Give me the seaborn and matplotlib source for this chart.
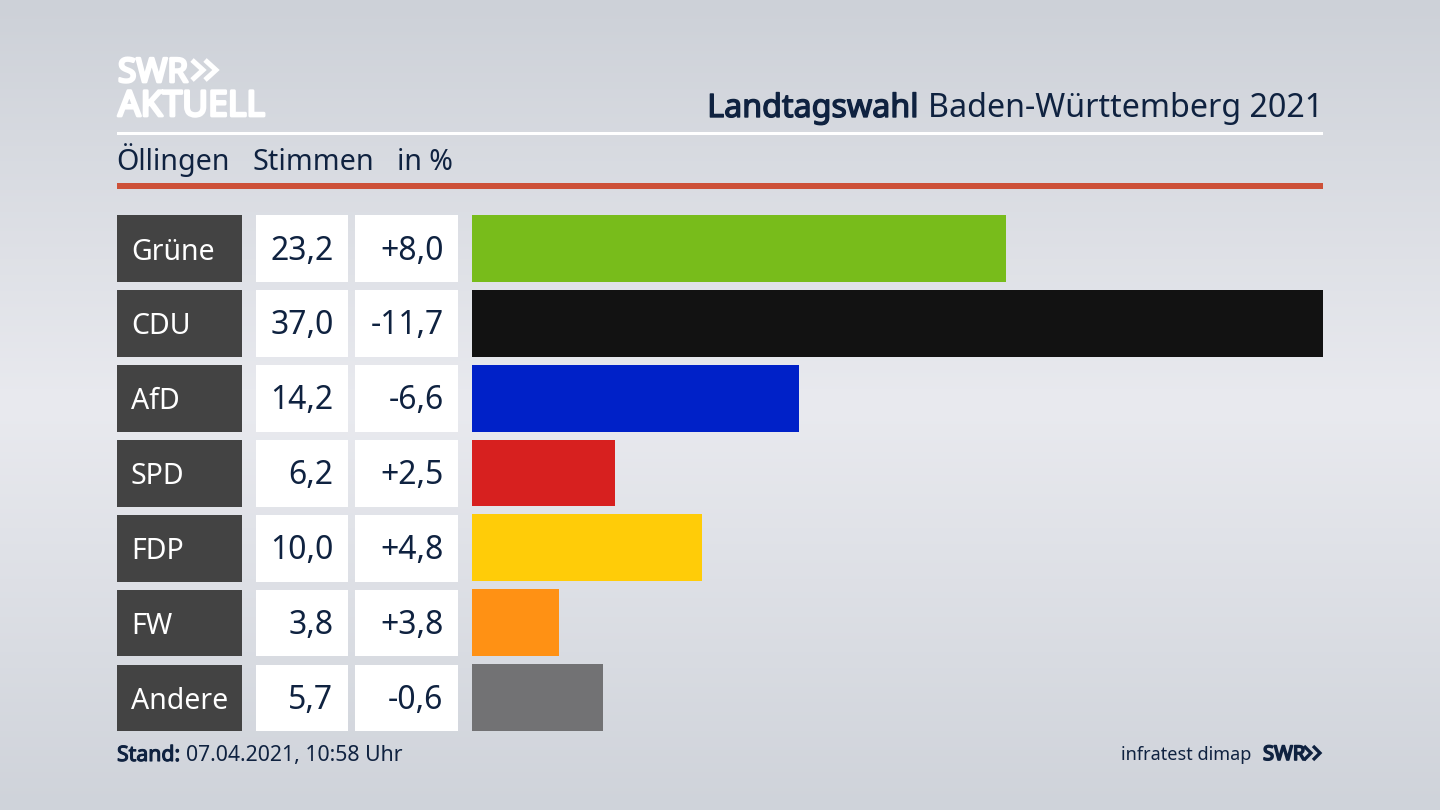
import numpy as np
import pandas as pd
import matplotlib
matplotlib.use("Agg")
import matplotlib.pyplot as plt
import matplotlib.patheffects as pe
from matplotlib.colors import LinearSegmentedColormap
from matplotlib.patches import Rectangle
import seaborn as sns

parties = ["Grüne", "CDU", "AfD", "SPD", "FDP", "FW", "Andere"]
shares = [23.2, 37.0, 14.2, 6.2, 10.0, 3.8, 5.7]
share_labels = ["23,2", "37,0", "14,2", "6,2", "10,0", "3,8", "5,7"]
change_labels = ["+8,0", "-11,7", "-6,6", "+2,5", "+4,8", "+3,8", "-0,6"]
colors = ["#78bc1b", "#121212", "#0021c8", "#d7201f", "#ffcc08", "#ff9114", "#727274"]

sns.set_theme(style="white")
FONT = "Noto Sans"
plt.rcParams["font.family"] = [FONT, "DejaVu Sans"]
NAVY = "#0f2240"

W, H = 1440, 810
fig = plt.figure(figsize=(W / 100, H / 100), dpi=100)

# background + decoration layer in pixel coordinates
bg = fig.add_axes([0, 0, 1, 1], zorder=0)
cmap = LinearSegmentedColormap.from_list("bg", ["#cdd1d8", "#e9eaef", "#cfd3da"])
bg.imshow(np.linspace(0, 1, 256)[:, None], cmap=cmap, aspect="auto", extent=[0, W, H, 0], zorder=0)
bg.set_xlim(0, W); bg.set_ylim(H, 0); bg.axis("off")


def bold(color, w):
    return [pe.withStroke(linewidth=w, foreground=color)]


bg.add_patch(Rectangle((117, 132), 1206, 3, color="white", lw=0))
bg.add_patch(Rectangle((117, 183), 1206, 6, color="#cd5138", lw=0))


def chevrons(x0, ytop, ybot, w, gap, lw, color):
    mid = (ytop + ybot) / 2
    for dx in (0, gap):
        bg.plot([x0 + dx, x0 + dx + w, x0 + dx], [ytop, mid, ybot], color=color, lw=lw,
                solid_joinstyle="miter", solid_capstyle="butt")


# logo
bg.text(118, 82, "SWR", color="white", fontsize=24, va="baseline", ha="left",
        path_effects=bold("white", 2.0))
chevrons(192, 60, 80, 11, 13, 3.6, "white")
bg.text(118, 116, "AKTUELL", color="white", fontsize=25.5, va="baseline", ha="left",
        path_effects=bold("white", 2.0))

# headline
t = bg.text(1323, 117, "Baden-Württemberg 2021", color=NAVY, fontsize=23.2, va="baseline", ha="right")
fig.canvas.draw()
bb = t.get_window_extent()
bg.text(bb.x0 - 9, 117, "Landtagswahl", color=NAVY, fontsize=23.2, va="baseline", ha="right",
        path_effects=bold(NAVY, 1.0))

# subhead
for x, s, fs in [(116, "Öllingen", 20.6), (252, "Stimmen", 20.7), (397, "in %", 20.5)]:
    bg.text(x, 170, s, color=NAVY, fontsize=fs, va="baseline", ha="left")

# table rows
for i, (p, a, b) in enumerate(zip(parties, share_labels, change_labels)):
    top = 215 + i * 74.93
    h = 66.8
    base = top + 44.5
    bg.add_patch(Rectangle((117, top), 124.5, h, color="#434343", lw=0))
    bg.add_patch(Rectangle((255.5, top), 92.5, h, color="white", lw=0))
    bg.add_patch(Rectangle((355, top), 103, h, color="white", lw=0))
    bg.text(131, base, p, color="white", fontsize=20.5, va="baseline", ha="left")
    bg.text(333.5, base, a, color=NAVY, fontsize=23, va="baseline", ha="right")
    bg.text(443.5, base, b, color=NAVY, fontsize=23, va="baseline", ha="right")

# footer
t = bg.text(117, 761, "Stand:", color=NAVY, fontsize=15.3, va="baseline", ha="left",
            path_effects=bold(NAVY, 0.8))
fig.canvas.draw()
bb = t.get_window_extent()
bg.text(bb.x1 + 6, 761, "07.04.2021, 10:58 Uhr", color=NAVY, fontsize=15.3, va="baseline", ha="left")
bg.text(1251, 760, "infratest dimap", color=NAVY, fontsize=13, va="baseline", ha="right")
bg.text(1263, 760, "SWR", color=NAVY, fontsize=14.5, va="baseline", ha="left",
        path_effects=bold(NAVY, 1.2))
chevrons(1304, 746, 760, 7, 9, 2.4, NAVY)

# bars
ax = fig.add_axes([472 / W, 1 - 731 / H, 851 / W, 516 / H], zorder=1)
ax.patch.set_alpha(0)
df = pd.DataFrame({"party": parties, "share": shares})
sns.barplot(data=df, y="party", x="share", hue="party", palette=colors, legend=False,
            width=0.892, saturation=1, ax=ax, orient="h", linewidth=0)
ax.set_xlim(0, max(shares))
ax.set_ylim(6.446, -0.446)
ax.axis("off")

fig.savefig("out.png", dpi=100)
